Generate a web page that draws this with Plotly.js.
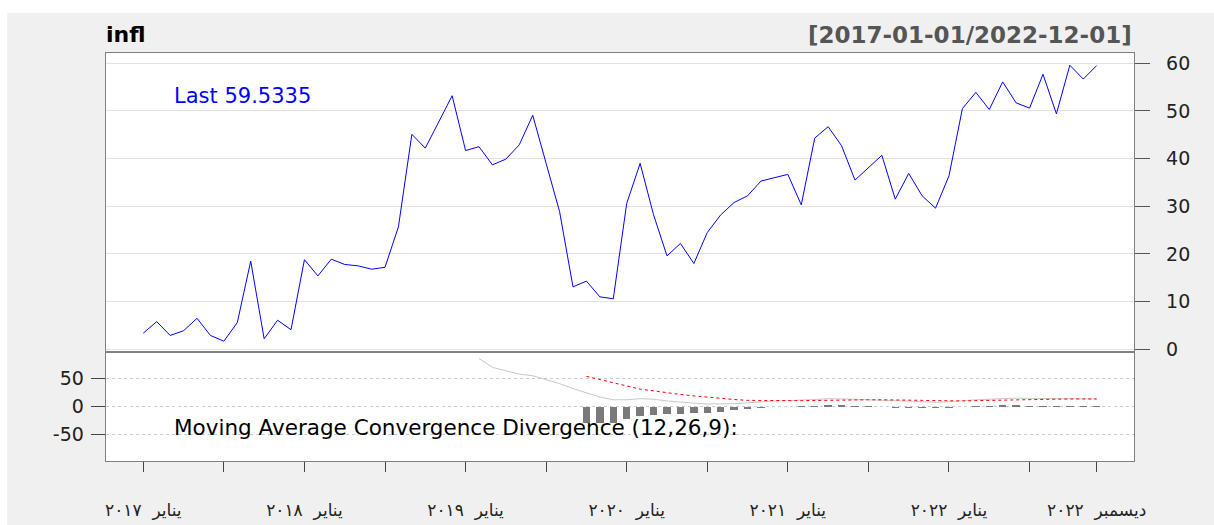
<!DOCTYPE html>
<html>
<head>
<meta charset="utf-8">
<script src="https://cdn.plot.ly/plotly-3.0.1.min.js"></script>
<style>
  html, body { margin: 0; padding: 0; background: #ffffff; }
  #chart { width: 1214px; height: 525px; }
</style>
</head>
<body>
<div id="chart"></div>
<script>
// Série mensal infl (2017-01 .. 2022-12)
const infl = [
    3.4, 5.8, 2.9, 3.9, 6.5, 2.9, 1.7, 5.6, 18.5, 2.2, 6.1, 4.1,
    18.8, 15.4, 18.9, 17.8, 17.5, 16.8, 17.2, 25.7, 45.1, 42.2, 47.7, 53.2,
    41.7, 42.5, 38.7, 39.9, 42.9, 49.1, 39.0, 28.9, 13.1, 14.3, 11.0, 10.6,
    30.6, 39.0, 28.2, 19.6, 22.2, 18.0, 24.5, 28.2, 30.8, 32.2, 35.3, 36.0,
    36.7, 30.3, 44.3, 46.7, 42.7, 35.5, 38.0, 40.7, 31.5, 36.9, 32.2, 29.6,
    36.4, 50.5, 53.9, 50.3, 56.1, 51.7, 50.6, 57.7, 49.4, 59.6, 56.7, 59.5335
];

const macdStart = 25;
const macdLinha = [
    86, 70, 64, 58, 55, 48, 41, 32, 25, 17, 12, 12, 14, 13, 10, 7.5,
    6, 4.5, 4.5, 5, 6.5, 8.5, 10, 10.5, 11, 12.5, 14, 14, 13, 12, 11.5, 10,
    9.5, 8.5, 7.5, 8.5, 10.5, 12, 13, 14.5, 15, 14.5, 14.5, 14, 14.5, 14, 13.5
];
const sinalStart = 33;
const macdSinal = [
    54, 48, 42, 36, 31, 28, 24.5, 21.5, 19, 16.5, 14.5, 12.5, 11, 10.5,
    10.5, 10.5, 10.5, 11, 11.5, 12, 12, 12, 12, 12, 11.5, 11, 10.5, 10, 10,
    10.5, 11, 12, 12.5, 13, 13, 13.5, 13.5, 13.5, 13.5
];
const macdHist = [
    -29, -29, -29, -23, -17, -14.5, -14, -13.5, -12.5, -11.5, -9.6, -7, -4.2, -1.8,
    -0.8, -0.3, 0.5, 1.5, 2.5, 2.5, 1, 0.3, -0.3, -2, -2, -2.5, -3.5, -2.5, -1,
    1, 1, 2, 2, 1, 1, 0.5, 1, 0.5, 0.2
];

// Eixo x: posições e rótulos
const ticksX = [0, 6, 12, 18, 24, 30, 36, 42, 48, 54, 60, 66, 71];
const rotulosX = [
    'يناير  ٢٠١٧', '', 'يناير  ٢٠١٨', '', 'يناير  ٢٠١٩', '', 'يناير  ٢٠٢٠', '',
    'يناير  ٢٠٢١', '', 'يناير  ٢٠٢٢', '', 'ديسمبر  ٢٠٢٢'
];
const ticksMacd = [-50, 0, 50];
const rotulosMacd = ['-50', '0', '50'];
const periodo = '[2017-01-01/2022-12-01]';

const idx = infl.map((_, i) => i);
const idxMacd = macdLinha.map((_, i) => i + macdStart);
const idxSinal = macdSinal.map((_, i) => i + sinalStart);

const fonte = 'DejaVu Sans, Liberation Sans, Arial, sans-serif';
const dominioX = [105.7 / 1214, 1134.3 / 1214];

const data = [
    {
        x: idx, y: infl, type: 'scatter', mode: 'lines',
        line: { color: '#0000ff', width: 1 },
        xaxis: 'x', yaxis: 'y', hoverinfo: 'skip'
    },
    {
        x: idxSinal, y: macdHist, type: 'bar',
        marker: { color: '#7a7a7a', line: { width: 0 } },
        width: 0.55,
        xaxis: 'x2', yaxis: 'y2', hoverinfo: 'skip'
    },
    {
        x: idxMacd, y: macdLinha, type: 'scatter', mode: 'lines',
        line: { color: '#c8c8c8', width: 1 },
        xaxis: 'x2', yaxis: 'y2', hoverinfo: 'skip'
    },
    {
        x: idxSinal, y: macdSinal, type: 'scatter', mode: 'lines',
        line: { color: '#ff0000', width: 1, dash: 'dot' },
        xaxis: 'x2', yaxis: 'y2', hoverinfo: 'skip'
    }
];

const layout = {
    width: 1214,
    height: 525,
    margin: { l: 0, r: 0, t: 0, b: 0 },
    paper_bgcolor: '#f0f0f0',
    plot_bgcolor: '#ffffff',
    showlegend: false,
    bargap: 0,
    font: { family: fonte, color: '#222222' },
    xaxis: {
        domain: dominioX,
        anchor: 'y',
        range: [-2.8, 73.8],
        showline: true, mirror: true, linecolor: '#808080', linewidth: 1,
        showticklabels: false, ticks: '',
        showgrid: false, zeroline: false
    },
    yaxis: {
        domain: [173 / 525, 471.7 / 525],
        anchor: 'x',
        side: 'right',
        range: [-0.57, 62.1],
        tickvals: [0, 10, 20, 30, 40, 50, 60],
        ticks: 'outside', ticklen: 15, tickcolor: '#555555',
        ticklabelstandoff: 12,
        tickfont: { size: 19, family: fonte, color: '#222222' },
        showline: true, mirror: true, linecolor: '#808080', linewidth: 1,
        gridcolor: '#e2e2e2', gridwidth: 1,
        zeroline: false
    },
    xaxis2: {
        domain: dominioX,
        anchor: 'y2',
        range: [-2.8, 73.8],
        tickvals: ticksX,
        ticktext: rotulosX,
        ticks: 'outside', ticklen: 10, tickcolor: '#444444',
        ticklabelstandoff: 24,
        tickfont: { size: 17, family: fonte, color: '#222222' },
        tickangle: 0,
        showline: true, mirror: true, linecolor: '#808080', linewidth: 1,
        showgrid: false, zeroline: false
    },
    yaxis2: {
        domain: [64 / 525, 173 / 525],
        anchor: 'x2',
        side: 'left',
        range: [-97.5, 97.5],
        tickvals: ticksMacd,
        ticktext: rotulosMacd,
        ticks: 'outside', ticklen: 14, tickcolor: '#444444',
        ticklabelstandoff: 3,
        tickfont: { size: 19, family: fonte, color: '#222222' },
        showline: true, mirror: true, linecolor: '#808080', linewidth: 1,
        gridcolor: '#cccccc', griddash: 'dot', gridwidth: 1,
        zeroline: false
    },
    shapes: [
        // faixas brancas da imagem original (topo e esquerda)
        { type: 'rect', xref: 'paper', yref: 'paper', x0: 0, x1: 1, y0: 512 / 525, y1: 1,
          fillcolor: '#ffffff', line: { width: 0 }, layer: 'above' },
        { type: 'rect', xref: 'paper', yref: 'paper', x0: 0, x1: 7 / 1214, y0: 0, y1: 1,
          fillcolor: '#ffffff', line: { width: 0 }, layer: 'above' }
    ],
    annotations: [
        {
            text: '<b>infl</b>', xref: 'paper', yref: 'paper',
            x: dominioX[0] - 0.001, y: (525 - 35) / 525, xanchor: 'left', yanchor: 'middle',
            showarrow: false, font: { size: 22, family: fonte, color: '#000000' }
        },
        {
            text: '<b>' + periodo + '</b>', xref: 'paper', yref: 'paper',
            x: dominioX[1], y: (525 - 35) / 525, xanchor: 'right', yanchor: 'middle',
            showarrow: false, font: { size: 23, family: fonte, color: '#555555' }
        },
        {
            text: 'Last ' + infl[infl.length - 1], xref: 'paper', yref: 'paper',
            x: 172 / 1214, y: (525 - 96) / 525, xanchor: 'left', yanchor: 'middle',
            showarrow: false, font: { size: 21, family: fonte, color: '#0000ff' }
        },
        {
            text: 'Moving Average Convergence Divergence (12,26,9):', xref: 'paper', yref: 'paper',
            x: 172 / 1214, y: (525 - 427) / 525, xanchor: 'left', yanchor: 'middle',
            showarrow: false, font: { size: 21.5, family: fonte, color: '#000000' }
        }
    ]
};

Plotly.newPlot('chart', data, layout, { displayModeBar: false, staticPlot: true });
</script>
</body>
</html>
